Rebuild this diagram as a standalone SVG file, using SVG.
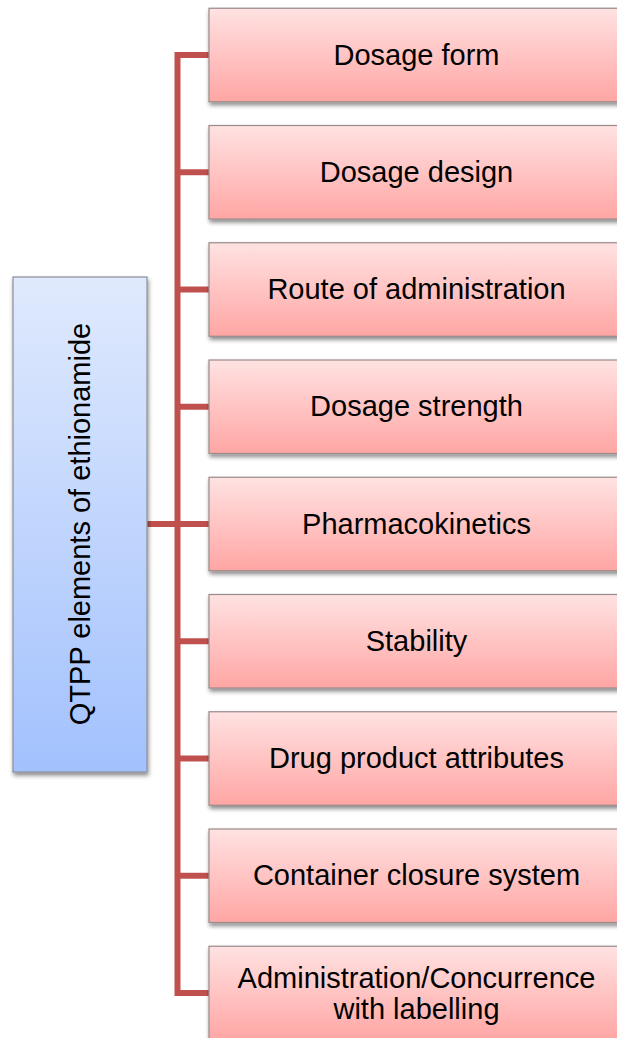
<svg xmlns="http://www.w3.org/2000/svg" width="617" height="1038" viewBox="0 0 617 1038">
  <defs>
    <linearGradient id="gradRoot" x1="0" y1="0" x2="0" y2="1">
      <stop offset="0" stop-color="#e0eafd"/>
      <stop offset="1" stop-color="#a2c1fd"/>
    </linearGradient>
    <linearGradient id="gradItem" x1="0" y1="0" x2="0" y2="1">
      <stop offset="0" stop-color="#ffe2e2"/>
      <stop offset="1" stop-color="#ffa6a4"/>
    </linearGradient>
    <filter id="shadow" x="-10%" y="-10%" width="120%" height="130%">
      <feDropShadow dx="1" dy="3" stdDeviation="2" flood-color="#000" flood-opacity="0.45"/>
    </filter>
  </defs>
  <style>
    .root { fill: url(#gradRoot); stroke: #8a8f99; stroke-width: 1.2; filter: url(#shadow); }
    .item { fill: url(#gradItem); stroke: #9a8a8a; stroke-width: 1.2; filter: url(#shadow); }
    .label { font-family: "Liberation Sans", Arial, sans-serif; font-size: 29px; fill: #000; text-anchor: middle; }
    .link { fill: none; stroke: #c0504d; stroke-width: 6; stroke-linejoin: miter; stroke-linecap: butt; }
  </style>

  <rect width="617" height="1038" fill="#fff"/>

  <!-- connectors -->
  <g id="connectors">
    <path class="link" d="M209,55 H177.5 V993 H209"/>
    <path class="link" d="M147,524 H209"/>
    <path class="link" d="M177.5,172.25 H209"/>
    <path class="link" d="M177.5,289.5 H209"/>
    <path class="link" d="M177.5,406.75 H209"/>
    <path class="link" d="M177.5,641.25 H209"/>
    <path class="link" d="M177.5,758.5 H209"/>
    <path class="link" d="M177.5,875.75 H209"/>
  </g>

  <!-- root node -->
  <g id="node-root">
    <rect class="root" x="13" y="277" width="134" height="495"/>
    <text class="label" transform="translate(90,524) rotate(-90)">QTPP elements of ethionamide</text>
  </g>

  <!-- element nodes -->
  <g id="node-dosage-form">
    <rect class="item" x="209" y="8.25" width="415" height="93.5"/>
    <text class="label" x="416.5" y="64.5">Dosage form</text>
  </g>
  <g id="node-dosage-design">
    <rect class="item" x="209" y="125.5" width="415" height="93.5"/>
    <text class="label" x="416.5" y="181.75">Dosage design</text>
  </g>
  <g id="node-route">
    <rect class="item" x="209" y="242.75" width="415" height="93.5"/>
    <text class="label" x="416.5" y="299">Route of administration</text>
  </g>
  <g id="node-strength">
    <rect class="item" x="209" y="360" width="415" height="93.5"/>
    <text class="label" x="416.5" y="416.25">Dosage strength</text>
  </g>
  <g id="node-pk">
    <rect class="item" x="209" y="477.25" width="415" height="93.5"/>
    <text class="label" x="416.5" y="533.5">Pharmacokinetics</text>
  </g>
  <g id="node-stability">
    <rect class="item" x="209" y="594.5" width="415" height="93.5"/>
    <text class="label" x="416.5" y="650.75">Stability</text>
  </g>
  <g id="node-attributes">
    <rect class="item" x="209" y="711.75" width="415" height="93.5"/>
    <text class="label" x="416.5" y="768">Drug product attributes</text>
  </g>
  <g id="node-container">
    <rect class="item" x="209" y="829" width="415" height="93.5"/>
    <text class="label" x="416.5" y="885.25">Container closure system</text>
  </g>
  <g id="node-labelling">
    <rect class="item" x="209" y="946.25" width="415" height="93.5"/>
    <text class="label" x="416.5" y="987.5">Administration/Concurrence</text>
    <text class="label" x="416.5" y="1018.5">with labelling</text>
  </g>
</svg>
